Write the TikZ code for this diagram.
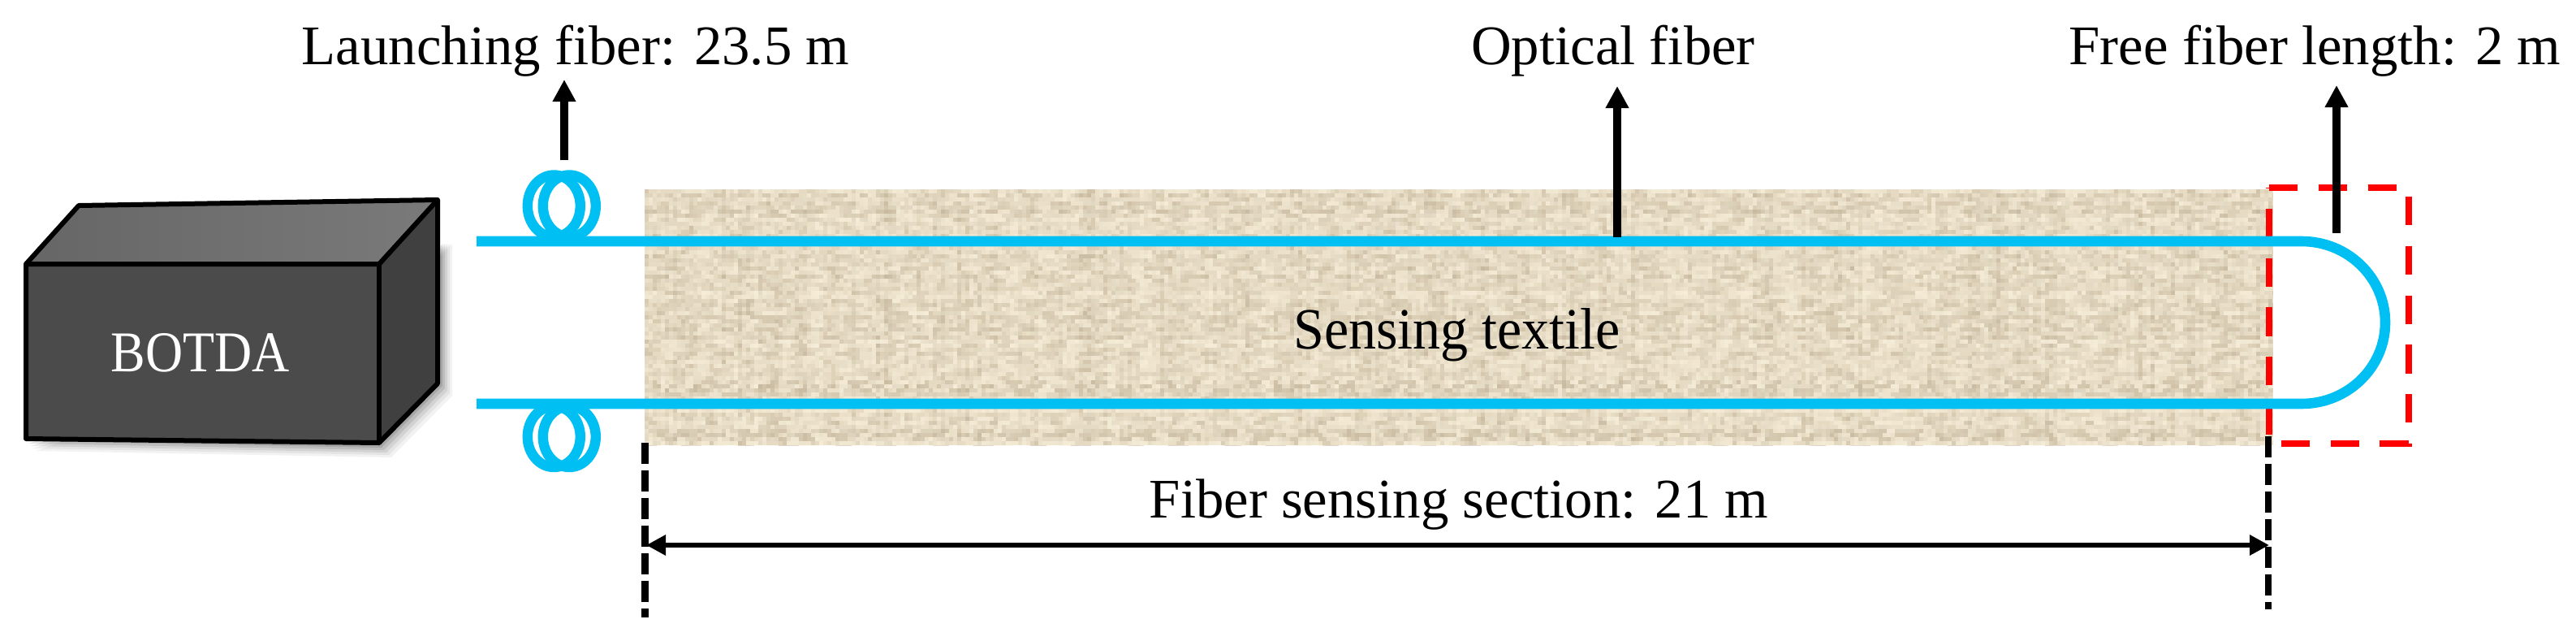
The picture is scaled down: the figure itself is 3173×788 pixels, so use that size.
\documentclass[tikz,border=0pt]{standalone}
\usepackage{fontspec}
\setmainfont{Liberation Serif}[Ligatures=NoCommon]
\usetikzlibrary{arrows.meta}
\definecolor{fib}{HTML}{00BFF3}
\definecolor{cloth}{HTML}{E6DAC2}
\definecolor{clothd}{HTML}{BBAD92}
\definecolor{clothl}{HTML}{FAF2DE}
\definecolor{boxfront}{HTML}{4B4B4B}
\definecolor{boxside}{HTML}{404040}
\definecolor{boxtopa}{HTML}{666666}
\definecolor{boxtopb}{HTML}{7A7A7A}
\newcommand{\lfs}[1]{\fontsize{#1}{#1}\selectfont}
\tikzset{
 x=0.5pt,y=-0.5pt,
 lab/.style={inner sep=0pt,font=\lfs{34.4},anchor=base},
 fiber/.style={draw=fib,line width=6.3pt},
 coil/.style={draw=fib,line width=6.2pt},
 callout/.style={draw=black,line width=4.6pt,-{Triangle[length=13.5pt,width=13.5pt]}},
 bound/.style={draw=black,line width=4.4pt,dash pattern=on 13pt off 4pt},
 dim/.style={draw=black,line width=3pt,{Triangle[length=12pt,width=12pt]}-{Triangle[length=12pt,width=12pt]}},
 edge/.style={draw=black,line width=3pt,line join=round},
}
\begin{document}
\begin{tikzpicture}
\useasboundingbox (0,0) rectangle (3173,788);
\coordinate (tl) at (794,233); \coordinate (br) at (2800,548);
\coordinate (upL) at (587,297); \coordinate (upR) at (2835,297);
\coordinate (loL) at (587,497); \coordinate (loR) at (2835,497);
% box shadow
\foreach \o/\op in {18/0.05,15/0.06,12/0.08,9/0.10,6/0.12}
 \fill[black,opacity=\op] (32+\o-6,540+\o-3) -- (467+\o-3,545+\o) -- (539+\o,472+\o-3) -- (539+\o,300) -- (467,400) -- cycle;
% box
\fill[boxfront] (32,325) -- (467,325) -- (467,545) -- (32,540) -- cycle;
\shade[left color=boxtopa,right color=boxtopb] (32,325) -- (97,253) -- (539,246) -- (467,325) -- cycle;
\fill[boxside] (467,325) -- (539,246) -- (539,472) -- (467,545) -- cycle;
\draw[edge] (32,325) -- (97,253) -- (539,246) -- (539,472) -- (467,545) -- (32,540) -- cycle;
\draw[edge] (32,325) -- (467,325) -- (539,246);
\draw[edge] (467,325) -- (467,545);
\node[lab,text=white,font=\lfs{35.5}] (botda) at (246.5,457) {\scalebox{0.9}[1]{BOTDA}};
% textile
\fill[cloth] (tl) rectangle (br);
\begin{scope}
\clip (tl) rectangle (br);
\pgfmathsetseed{4217}
\foreach \i in {0,...,401}{
 \pgfmathsetmacro{\xx}{796.5+5*\i}
 \pgfmathsetmacro{\a}{2.5*random(1,7)}
 \pgfmathsetmacro{\b}{2.5*random(1,5)}
 \pgfmathsetmacro{\c}{2.5*random(1,7)}
 \pgfmathsetmacro{\d}{2.5*random(1,6)}
 \pgfmathsetmacro{\op}{0.10+0.30*rnd}
 \pgfmathsetmacro{\ph}{2.5*random(0,20)}
 \pgfmathparse{rnd>0.42?"clothl":"clothd"}
 \draw[\pgfmathresult,opacity=\op,line width=2.5pt,dash pattern=on \a pt off \b pt on \c pt off \d pt,dash phase=\ph pt] (\xx,233) -- (\xx,548);
}
\foreach \i in {0,...,63}{
 \pgfmathsetmacro{\yy}{235.5+5*\i}
 \foreach \k in {1,2,3}{
  \pgfmathsetmacro{\a}{2.5*random(1,7)}
  \pgfmathsetmacro{\b}{2.5*random(1,6)}
  \pgfmathsetmacro{\c}{2.5*random(1,9)}
  \pgfmathsetmacro{\d}{2.5*random(2,9)}
  \pgfmathsetmacro{\op}{0.14+0.36*rnd}
  \pgfmathsetmacro{\ph}{2.5*random(0,20)}
  \pgfmathparse{\k==2?"clothd":"clothl"}
  \draw[\pgfmathresult,opacity=\op,line width=2.5pt,dash pattern=on \a pt off \b pt on \c pt off \d pt,dash phase=\ph pt] (794,\yy) -- (2800,\yy);
 }
}
\end{scope}
% red box
\draw[red,line width=4pt,dash pattern=on 17.6pt off 12.8pt] (2795,231) -- (2966.5,231) -- (2966.5,546) -- (2795,546) -- cycle;
% coils
\foreach \c in {682.3,701.3}{
 \draw[coil] (\c,253.5) ellipse [x radius=32.5,y radius=38];
 \draw[coil] (\c,537.5) ellipse [x radius=32.5,y radius=37.5];
}
% fibers
\draw[fiber] (upL) -- (upR) arc[start angle=-90,end angle=90,x radius=103,y radius=100] -- (loL);
% labels
\node[lab] (launch) at (709,79) {Launching fiber: 23.5 m};
\node[lab] (opt) at (1987,79) {Optical fiber};
\node[lab] (free) at (2851.5,79) {Free fiber length: 2 m};
\node[lab,font=\lfs{36}] (sens) at (1794.5,429) {\scalebox{0.945}[1]{Sensing textile}};
\node[lab] (sect) at (1797,637) {Fiber sensing section: 21 m};
% callouts
\coordinate (a1) at (695,197); \coordinate (a1t) at (695,98);
\coordinate (a2) at (1992,292); \coordinate (a2t) at (1992,106);
\coordinate (a3) at (2878,287); \coordinate (a3t) at (2878,105);
\draw[callout] (a1) -- (a1t);
\draw[callout] (a2) -- (a2t);
\draw[callout] (a3) -- (a3t);
% boundaries
\coordinate (bl1) at (794.5,545); \coordinate (bl2) at (794.5,760);
\coordinate (br1) at (2794,537); \coordinate (br2) at (2794,750);
\draw[bound] (bl1) -- (bl2);
\draw[bound] (br1) -- (br2);
\coordinate (dl) at (796,671); \coordinate (dr) at (2795,671);
\draw[dim] (dl) -- (dr);
\end{tikzpicture}
\end{document}
